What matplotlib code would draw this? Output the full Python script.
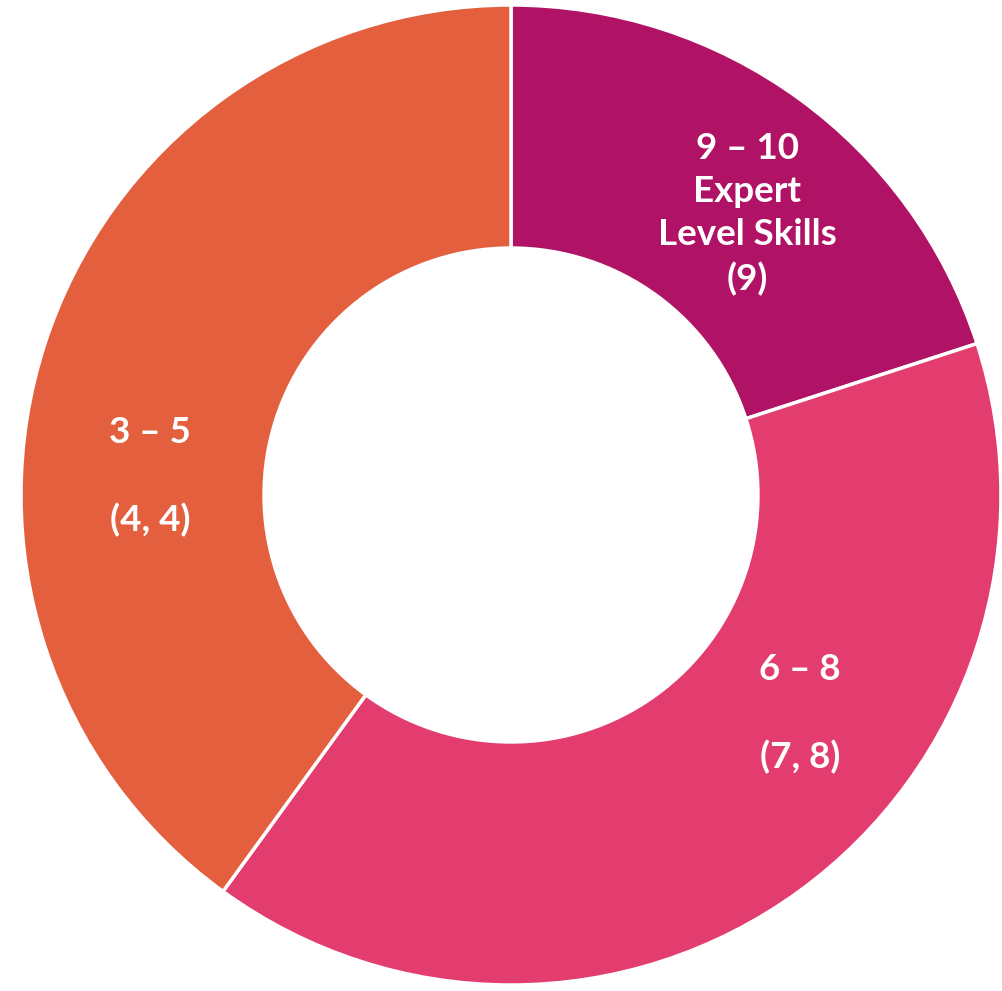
import matplotlib
matplotlib.use("Agg")
import matplotlib.pyplot as plt

# Data
categories = ["9 – 10 Expert Level Skills", "6 – 8", "3 – 5"]
values = [20, 40, 40]
colors = ["#B01265", "#E33D6F", "#E35F3E"]
labels = ["9 – 10\nExpert\nLevel Skills\n(9)", "6 – 8\n\n(7, 8)", "3 – 5\n\n(4, 4)"]

W, H = 1002, 991
cx, cy, R = 511, 495, 490

fig = plt.figure(figsize=(W / 100, H / 100), dpi=100)
ax = fig.add_axes([0, 0, 1, 1])

ax.pie(values, colors=colors, startangle=90, counterclock=False, radius=1.0,
       wedgeprops=dict(width=0.496, edgecolor="white", linewidth=2.5))
ax.set_aspect("auto")
ax.set_xlim(-cx / R, (W - cx) / R)
ax.set_ylim(-(H - cy) / R, cy / R)
ax.axis("off")

def px(x, y):
    return (x - cx) / R, (cy - y) / R

label_pos = [(747, 214), (800, 714), (150, 477)]
for lab, (x, y) in zip(labels, label_pos):
    tx, ty = px(x, y)
    ax.text(tx, ty, lab, ha="center", va="center", color="white",
            fontsize=26.5, fontweight="bold", family="Lato", linespacing=1.38)

fig.savefig("out.png", dpi=100)
